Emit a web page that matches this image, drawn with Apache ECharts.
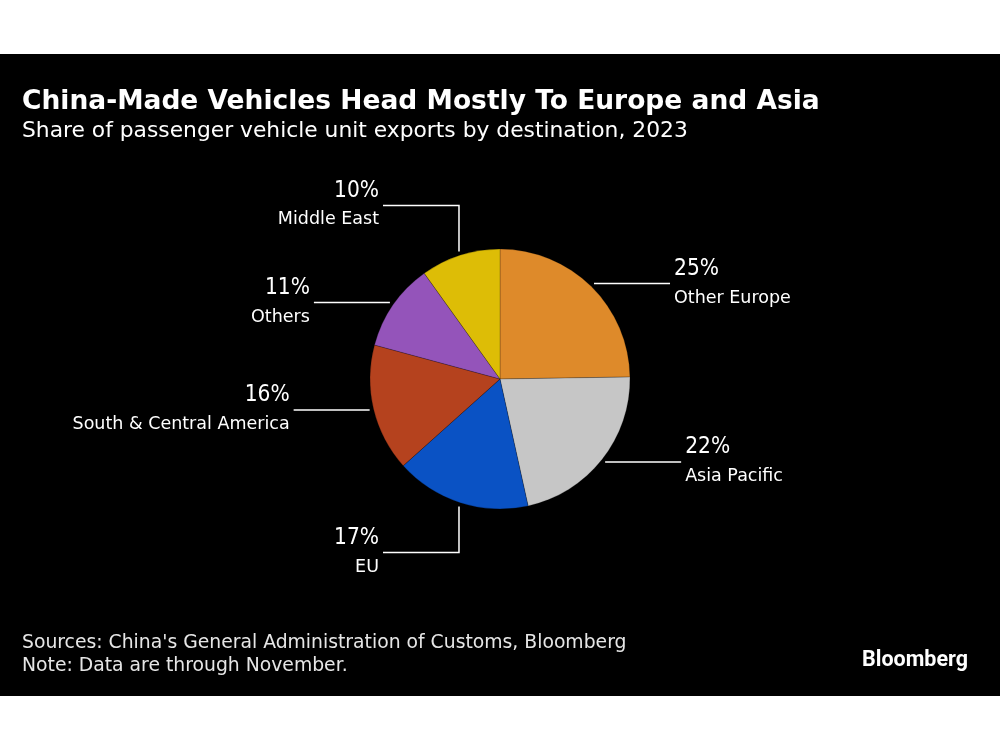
<!DOCTYPE html>
<html>
<head>
<meta charset="utf-8">
<script src="https://cdn.jsdelivr.net/npm/echarts@6/dist/echarts.min.js"></script>
<style>
html,body{margin:0;padding:0;background:#fff;}
#c{width:1000px;height:750px;}
</style>
</head>
<body>
<div id="c"></div>
<script>
// ---- data ----
const categories = ['Other Europe', 'Asia Pacific', 'EU', 'South & Central America', 'Others', 'Middle East'];
const shares = [25, 22, 17, 16, 11, 10];
const sliceColors = ['#DE8A2A', '#C6C6C6', '#0A52C4', '#B5421E', '#9454BA', '#DDBD06'];
const titleText = 'China-Made Vehicles Head Mostly To Europe and Asia';
const subtitleText = 'Share of passenger vehicle unit exports by destination, 2023';
const sourceText = "Sources: China's General Administration of Customs, Bloomberg";
const noteText = 'Note: Data are through November.';
const brandText = 'Bloomberg';

// ---- layout ----
const CX = 500, CY = 379, R = 130;
const GAP = 4, HORIZ = 76, VERT = 46, TEXT_GAP = 4;

const chart = echarts.init(document.getElementById('c'), null, {renderer: 'canvas'});

const sans = "'DejaVu Sans', sans-serif";
const condensed = "'DejaVu Sans Condensed', 'DejaVu Sans', sans-serif";

const option = {
  backgroundColor: '#000',
  animation: false,
  graphic: [
    {type: 'rect', shape: {x: 0, y: 0, width: 1000, height: 54}, style: {fill: '#fff'}, silent: true},
    {type: 'rect', shape: {x: 0, y: 696, width: 1000, height: 54}, style: {fill: '#fff'}, silent: true},
    {type: 'text', x: 22, y: 102, style: {text: titleText, fill: '#fff', font: "bold 26.5px " + sans, textVerticalAlign: 'middle'}},
    {type: 'text', x: 22, y: 131, style: {text: subtitleText, fill: '#fff', font: "21.8px " + sans, textVerticalAlign: 'middle'}},
    {type: 'text', x: 22, y: 643, style: {text: sourceText, fill: '#e6e6e6', font: "18.8px " + sans, textVerticalAlign: 'middle'}},
    {type: 'text', x: 22, y: 666, style: {text: noteText, fill: '#e6e6e6', font: "18.8px " + sans, textVerticalAlign: 'middle'}},
    {type: 'text', x: 968, y: 661, style: {text: brandText, fill: '#fff', font: "bold 21.5px Roboto, 'DejaVu Sans', sans-serif", textAlign: 'right', textVerticalAlign: 'middle'}}
  ],
  series: [{
    type: 'pie',
    center: [CX, CY],
    radius: R,
    startAngle: 90,
    clockwise: true,
    avoidLabelOverlap: false,
    emphasis: {disabled: true},
    itemStyle: {borderColor: 'rgba(0,0,0,0.35)', borderWidth: 0.6},
    data: categories.map((n, i) => ({name: n, value: shares[i], itemStyle: {color: sliceColors[i]}})),
    label: {
      show: true,
      position: 'outside',
      formatter: p => '{p|' + p.value + '%}\n{n|' + p.name + '}',
      rich: {
        p: {fontFamily: condensed, fontSize: 22.5, color: '#fff', lineHeight: 29},
        n: {fontFamily: sans, fontSize: 17.5, color: '#fff', lineHeight: 29}
      }
    },
    labelLine: {show: true, length: 10, length2: 10, smooth: false, lineStyle: {color: '#fff', width: 1.5}},
    labelLayout: function (params) {
      let pts = params.labelLinePoints;
      let ax, ay;
      if (pts && pts.length) {
        ax = pts[0][0]; ay = pts[0][1];
      } else {
        const total = shares.reduce((a, b) => a + b, 0);
        let cum = 0;
        for (let i = 0; i < params.dataIndex; i++) cum += shares[i];
        const mid = (cum + shares[params.dataIndex] / 2) / total * Math.PI * 2;
        ax = CX + R * Math.sin(mid); ay = CY - R * Math.cos(mid);
      }
      const dx = ax - CX, dy = ay - CY, d = Math.hypot(dx, dy) || 1;
      const sx = ax + dx / d * GAP, sy = ay + dy / d * GAP;
      let line, ex, ey;
      if (Math.abs(dx) < R * 0.45) {
        const vy = sy + Math.sign(dy) * VERT;
        ex = sx - HORIZ; ey = vy;
        line = [[sx, sy], [sx, vy], [ex, ey]];
      } else {
        const s = Math.sign(dx);
        ex = sx + s * HORIZ; ey = sy;
        line = [[sx, sy], [ex, ey]];
      }
      const toLeft = ex < sx;
      return {
        x: ex + (toLeft ? -TEXT_GAP : TEXT_GAP),
        y: ey,
        align: toLeft ? 'right' : 'left',
        verticalAlign: 'middle',
        labelLinePoints: line
      };
    }
  }]
};
chart.setOption(option);
</script>
</body>
</html>
